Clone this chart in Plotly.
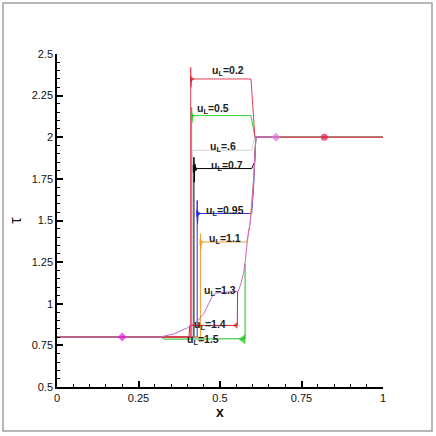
import plotly.graph_objects as go

# ---- data ----
x_ticks = [0, 0.25, 0.5, 0.75, 1]
x_tick_text = ["0", "0.25", "0.5", "0.75", "1"]
y_ticks = [0.5, 0.75, 1, 1.25, 1.5, 1.75, 2, 2.25, 2.5]
y_tick_text = ["0.5", "0.75", "1", "1.25", "1.5", "1.75", "2", "2.25", "2.5"]

# u_L = 0.5
c05_x = [0, 0.413, 0.413, 0.414, 0.416, 0.595, 0.607, 1.0]
c05_y = [0.8, 0.8, 2.18, 2.09, 2.13, 2.13, 2.0, 2.0]
# u_L = .6
c06_x = [0, 0.416, 0.416, 0.597, 0.607, 1.0]
c06_y = [0.8, 0.8, 1.922, 1.922, 2.0, 2.0]
# u_L = 0.7
c07_x = [0, 0.420, 0.420, 0.421, 0.423, 0.426, 0.430, 0.597, 0.606, 0.61, 1.0]
c07_y = [0.8, 0.8, 1.88, 1.73, 1.84, 1.80, 1.812, 1.812, 1.85, 2.0, 2.0]
# u_L = 0.95
c095_x = [0, 0.430, 0.430, 0.431, 0.433, 0.597, 0.603, 0.61, 1.0]
c095_y = [0.8, 0.8, 1.62, 1.48, 1.542, 1.542, 1.70, 2.0, 2.0]
# u_L = 1.1
c11_x = [0, 0.440, 0.440, 0.441, 0.443, 0.582, 0.592, 0.603, 0.61, 1.0]
c11_y = [0.8, 0.8, 1.42, 1.33, 1.371, 1.371, 1.48, 1.75, 2.0, 2.0]
# u_L = 1.4
c14_x = [0, 0.405, 0.407, 0.553, 0.554]
c14_y = [0.8, 0.8, 0.87, 0.87, 1.075]
# u_L = 1.5
c15_x = [0, 0.320, 0.330, 0.575, 0.577, 0.577]
c15_y = [0.8, 0.8, 0.787, 0.787, 0.79, 1.24]
# u_L = 0.2
c02_x = [0, 0.410, 0.410, 0.411, 0.413, 0.595, 0.607, 1.0]
c02_y = [0.8, 0.8, 2.42, 2.30, 2.35, 2.35, 2.0, 2.0]
# u_L = 1.3
c13_x = [0, 0.316, 0.36, 0.40, 0.43, 0.45, 0.465, 0.478, 0.49, 0.556,
         0.564, 0.572, 0.578, 0.584, 0.592, 0.598, 0.603, 0.607, 0.61, 0.67]
c13_y = [0.8, 0.8, 0.82, 0.855, 0.895, 0.94, 1.0, 1.05, 1.065, 1.075,
         1.12, 1.18, 1.26, 1.38, 1.48, 1.6, 1.75, 1.9, 2.0, 2.0]

# spike / symbol markers
spk_x = [0.4125, 0.4145, 0.4215, 0.4315, 0.4415, 0.549, 0.571]
spk_y = [2.35, 2.13, 1.812, 1.542, 1.371, 0.87, 0.787]
spk_sym = ["triangle-right"] * 5 + ["triangle-left"] * 2
spk_col = ["#e31a1c", "#20c020", "#000000", "#2020e0", "#f0a020", "#e01010", "#10c010"]
spk_size = [6, 6, 7, 7, 6, 6, 9]

sym_x = [0.2, 0.672, 0.82]
sym_y = [0.8, 2.0, 2.0]
sym_col = ["#e020e0", "#e070e0", "#e0204a"]

labels = ["u<sub>L</sub>=0.2", "u<sub>L</sub>=0.5", "u<sub>L</sub>=.6", "u<sub>L</sub>=0.7",
          "u<sub>L</sub>=0.95", "u<sub>L</sub>=1.1", "u<sub>L</sub>=1.3", "u<sub>L</sub>=1.4",
          "u<sub>L</sub>=1.5"]
label_x = [0.525, 0.479, 0.509, 0.52, 0.515, 0.515, 0.50, 0.469, 0.449]
label_y = [2.40, 2.17, 1.94, 1.83, 1.555, 1.39, 1.075, 0.87, 0.78]

fig = go.Figure()

curves = [
    (c05_x, c05_y, "#30d030"),
    (c06_x, c06_y, "#d0d0d0"),
    (c07_x, c07_y, "#000000"),
    (c095_x, c095_y, "#3030e0"),
    (c11_x, c11_y, "#f0a030"),
    (c14_x, c14_y, "#e02020"),
    (c15_x, c15_y, "#20c020"),
    (c02_x, c02_y, "#e0405a"),
    (c13_x, c13_y, "#cc66cc"),
]
for cx, cy, col in curves:
    fig.add_trace(go.Scatter(x=cx, y=cy, mode="lines",
                             line=dict(color=col, width=1), showlegend=False,
                             hoverinfo="skip"))

fig.add_trace(go.Scatter(x=spk_x, y=spk_y, mode="markers",
                         marker=dict(symbol=spk_sym, color=spk_col, size=spk_size,
                                     line=dict(width=0)),
                         showlegend=False, hoverinfo="skip"))
fig.add_trace(go.Scatter(x=sym_x, y=sym_y, mode="markers",
                         marker=dict(symbol=["diamond", "diamond", "circle"], color=sym_col,
                                     size=[7, 7, 7], line=dict(width=0)),
                         showlegend=False, hoverinfo="skip"))

for t, lx, ly in zip(labels, label_x, label_y):
    fig.add_annotation(x=lx, y=ly, text="<b>" + t + "</b>", showarrow=False,
                       font=dict(family="Liberation Sans, Arial", size=10.5, color="#222222"))

# outer grey frame
fig.add_shape(type="rect", xref="paper", yref="paper",
              x0=-0.1656, x1=1.1503, y0=-0.1321, y1=1.1532,
              line=dict(color="#a0a0a0", width=1.5))

axis_common = dict(showgrid=False, zeroline=False, showline=True, linecolor="black",
                   linewidth=1.5, ticks="inside", ticklen=6, tickwidth=1.5,
                   tickcolor="black", mirror=False,
                   tickfont=dict(family="Liberation Sans, Arial", size=11, color="#111111"))

fig.update_xaxes(range=[0, 1], tickvals=x_ticks, ticktext=x_tick_text,
                 minor=dict(ticks="inside", ticklen=3, dtick=0.05, tick0=0,
                            tickcolor="black", tickwidth=1),
                 title=dict(text="<b>x</b>", standoff=2,
                            font=dict(family="Liberation Sans, Arial", size=14, color="#111111")),
                 **axis_common)
fig.update_yaxes(range=[0.5, 2.5], tickvals=y_ticks, ticktext=y_tick_text,
                 minor=dict(ticks="inside", ticklen=3, dtick=0.05, tick0=0.5,
                            tickcolor="black", tickwidth=1),
                 title=dict(text="τ", standoff=6,
                            font=dict(family="Liberation Sans, Arial", size=16, color="#111111")),
                 **axis_common)

fig.update_layout(width=436, height=436,
                  margin=dict(l=57, r=53, t=54, b=49),
                  paper_bgcolor="white", plot_bgcolor="white")

fig.write_html("out.html", config={"displayModeBar": False},
               post_script="document.body.style.margin='0px';document.body.style.overflow='hidden';")
